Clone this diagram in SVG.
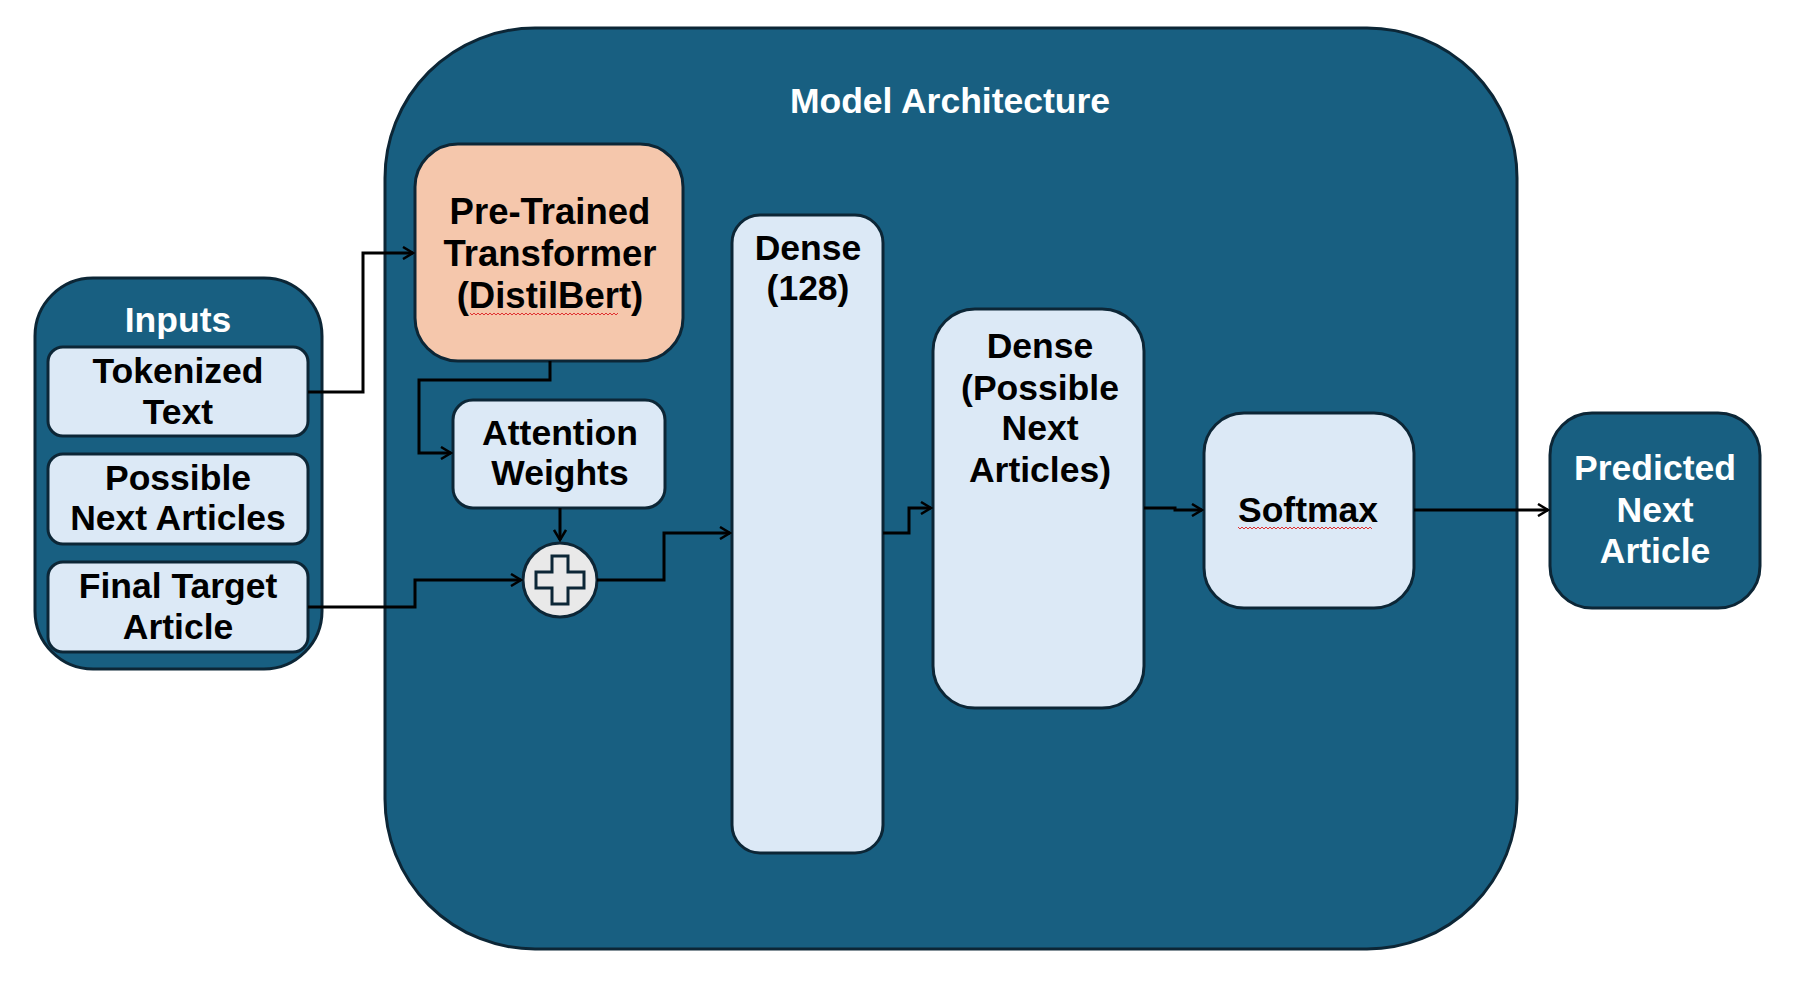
<svg xmlns="http://www.w3.org/2000/svg" width="1807" height="1007" viewBox="0 0 1807 1007">
<style>
.dark{fill:#185f81;stroke:#0c2636;stroke-width:3}
.light{fill:#dce9f6;stroke:#0c2636;stroke-width:3}
.peach{fill:#f5c7ac;stroke:#0c2636;stroke-width:3}
.t{font-family:"Liberation Sans",Arial,sans-serif;font-weight:bold;font-size:35.5px;text-anchor:middle;fill:#000}
.big{font-size:36.5px}
.w{fill:#fff}
.conn{fill:none;stroke:#000;stroke-width:3}
.sq{fill:none;stroke:#e03030;stroke-width:1}
</style>
<defs>
<marker id="arr" markerWidth="14" markerHeight="14" refX="12" refY="7" orient="auto" markerUnits="userSpaceOnUse">
<path d="M2,1 L12,7 L2,13" fill="none" stroke="#000" stroke-width="2.5"/>
</marker>
</defs>
<rect width="1807" height="1007" fill="#fff"/>
<g id="model-architecture">
<rect class="dark" x="385" y="28" width="1132" height="921" rx="150" ry="150"/>
<text class="t w" x="950" y="113">Model Architecture</text>
</g>
<g id="inputs">
<rect class="dark" x="35" y="278" width="287" height="391" rx="58"/>
<text class="t w" x="178" y="332">Inputs</text>
</g>
<g id="tokenized-text">
<rect class="light" x="48" y="347" width="260" height="89" rx="15"/>
<text class="t" x="178" y="383">Tokenized</text>
<text class="t" x="178" y="424">Text</text>
</g>
<g id="possible-next-articles">
<rect class="light" x="48" y="454" width="260" height="90" rx="15"/>
<text class="t" x="178" y="490">Possible</text>
<text class="t" x="178" y="530">Next Articles</text>
</g>
<g id="final-target-article">
<rect class="light" x="48" y="562" width="260" height="90" rx="15"/>
<text class="t" x="178" y="598">Final Target</text>
<text class="t" x="178" y="639">Article</text>
</g>
<g id="pretrained-transformer">
<rect class="peach" x="415" y="144" width="268" height="217" rx="43"/>
<text class="t big" x="550" y="224">Pre-Trained</text>
<text class="t big" x="550" y="266">Transformer</text>
<text class="t big" x="550" y="308">(DistilBert)</text>
<path class="sq" d="M470,313 l2,2 l2,-2 l2,2 l2,-2 l2,2 l2,-2 l2,2 l2,-2 l2,2 l2,-2 l2,2 l2,-2 l2,2 l2,-2 l2,2 l2,-2 l2,2 l2,-2 l2,2 l2,-2 l2,2 l2,-2 l2,2 l2,-2 l2,2 l2,-2 l2,2 l2,-2 l2,2 l2,-2 l2,2 l2,-2 l2,2 l2,-2 l2,2 l2,-2 l2,2 l2,-2 l2,2 l2,-2 l2,2 l2,-2 l2,2 l2,-2 l2,2 l2,-2 l2,2 l2,-2 l2,2 l2,-2 l2,2 l2,-2 l2,2 l2,-2 l2,2 l2,-2 l2,2 l2,-2 l2,2 l2,-2 l2,2 l2,-2 l2,2 l2,-2 l2,2 l2,-2 l2,2 l2,-2 l2,2 l2,-2 l2,2 l2,-2 l2,2 l2,-2"/>
</g>
<g id="attention-weights">
<rect class="light" x="453" y="400" width="212" height="108" rx="20"/>
<text class="t" x="560" y="445">Attention</text>
<text class="t" x="560" y="485">Weights</text>
</g>
<g id="add">
<circle cx="560" cy="580" r="37" fill="#e9e9e9" stroke="#0c2636" stroke-width="3"/>
<path d="M552,556 H568 V572 H584 V588 H568 V604 H552 V588 H536 V572 H552 Z" fill="#e9e9e9" stroke="#0c2636" stroke-width="3"/>
</g>
<g id="dense-128">
<rect class="light" x="732" y="215" width="151" height="638" rx="28"/>
<text class="t" x="808" y="260">Dense</text>
<text class="t" x="808" y="300">(128)</text>
</g>
<g id="dense-possible">
<rect class="light" x="933" y="309" width="211" height="399" rx="42"/>
<text class="t" x="1040" y="358">Dense</text>
<text class="t" x="1040" y="400">(Possible</text>
<text class="t" x="1040" y="440">Next</text>
<text class="t" x="1040" y="482">Articles)</text>
</g>
<g id="softmax">
<rect class="light" x="1204" y="413" width="210" height="195" rx="40"/>
<text class="t" x="1308" y="522">Softmax</text>
<path class="sq" d="M1238,527 l2,2 l2,-2 l2,2 l2,-2 l2,2 l2,-2 l2,2 l2,-2 l2,2 l2,-2 l2,2 l2,-2 l2,2 l2,-2 l2,2 l2,-2 l2,2 l2,-2 l2,2 l2,-2 l2,2 l2,-2 l2,2 l2,-2 l2,2 l2,-2 l2,2 l2,-2 l2,2 l2,-2 l2,2 l2,-2 l2,2 l2,-2 l2,2 l2,-2 l2,2 l2,-2 l2,2 l2,-2 l2,2 l2,-2 l2,2 l2,-2 l2,2 l2,-2 l2,2 l2,-2 l2,2 l2,-2 l2,2 l2,-2 l2,2 l2,-2 l2,2 l2,-2 l2,2 l2,-2 l2,2 l2,-2 l2,2 l2,-2 l2,2 l2,-2 l2,2 l2,-2 l2,2"/>
</g>
<g id="predicted-next-article">
<rect class="dark" x="1550" y="413" width="210" height="195" rx="42"/>
<text class="t w" x="1655" y="480">Predicted</text>
<text class="t w" x="1655" y="522">Next</text>
<text class="t w" x="1655" y="563">Article</text>
</g>
<g id="connectors">
<path class="conn" d="M308,392 H363 V253 H413" marker-end="url(#arr)"/>
<path class="conn" d="M550,361 V380 H419 V453 H451" marker-end="url(#arr)"/>
<path class="conn" d="M560,508 V540" marker-end="url(#arr)"/>
<path class="conn" d="M308,607 H415 V580 H521" marker-end="url(#arr)"/>
<path class="conn" d="M597,580 H664 V533 H730" marker-end="url(#arr)"/>
<path class="conn" d="M883,533 H909 V508 H931" marker-end="url(#arr)"/>
<path class="conn" d="M1144,508 H1175 V510 H1202" marker-end="url(#arr)"/>
<path class="conn" d="M1414,510 H1548" marker-end="url(#arr)"/>
</g>
</svg>
